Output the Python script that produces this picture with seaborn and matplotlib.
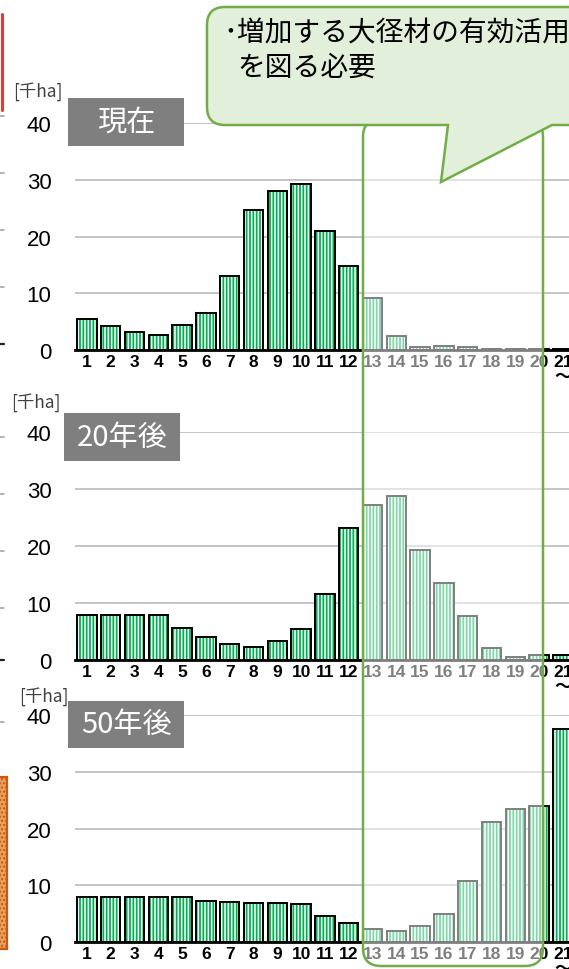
import numpy as np
import pandas as pd
import matplotlib
matplotlib.use("Agg")
import matplotlib.pyplot as plt
import seaborn as sns
from matplotlib.patches import Rectangle, FancyBboxPatch, PathPatch
from matplotlib.path import Path
from matplotlib.lines import Line2D
from matplotlib.transforms import IdentityTransform
from matplotlib import font_manager as fm

# ---------------- data ----------------
age_classes = [str(i) for i in range(1, 21)] + ["21\n〜"]
area_now = [5.5, 4.3, 3.2, 2.7, 4.4, 6.5, 13.0, 24.7, 28.1, 29.3, 20.9, 14.9,
            9.1, 2.5, 0.6, 0.75, 0.55, 0.2, 0.15, 0.1, 0.1]
area_20y = [7.95, 7.95, 7.95, 7.95, 5.7, 4.0, 2.75, 2.2, 3.4, 5.5, 11.6, 23.2,
            27.2, 28.7, 19.3, 13.5, 7.8, 2.05, 0.5, 0.8, 0.8]
area_50y = [7.9, 7.9, 7.9, 7.9, 7.9, 7.3, 7.1, 7.0, 6.9, 6.8, 4.7, 3.45,
            2.3, 2.0, 2.9, 5.0, 10.7, 21.1, 23.5, 23.9, 37.6]
panel_titles = ["現在", "20年後", "50年後"]
y_ticks = [0, 10, 20, 30, 40]
unit_label = "[千ha]"
callout_line1 = "･増加する大径材の有効活用"
callout_line2 = "を図る必要"

# ---------------- style ----------------
sns.set_theme(style="white")
names = {f.name for f in fm.fontManager.ttflist}
NUM = "Liberation Sans" if "Liberation Sans" in names else "DejaVu Sans"
JP = "Noto Sans CJK JP"
plt.rcParams["font.family"] = [NUM, JP, "DejaVu Sans"]
plt.rcParams["hatch.linewidth"] = 1.1

W, H = 569, 970
fig = plt.figure(figsize=(W / 100, H / 100), dpi=100)
fig.patch.set_facecolor("white")
ID = IdentityTransform()

GREEN = "#00B050"
LINE_GREEN = "#70AD47"

panels = [(area_now, 124.2, 351.0), (area_20y, 433.0, 661.0), (area_50y, 716.0, 943.3)]
left_px, width_px = 75.0, 499.8

for vals, top, bottom in panels:
    ax = fig.add_axes([left_px / W, (H - bottom) / H, width_px / W, (bottom - top) / H])
    df = pd.DataFrame({"age": age_classes, "area": vals})
    sns.barplot(data=df, x="age", y="area", ax=ax, color=GREEN, saturation=1,
                width=0.82, linewidth=0, edgecolor="white", errorbar=None)
    bars = list(ax.patches)
    for p in bars:
        p.set_facecolor(GREEN)
        p.set_edgecolor("white")
        p.set_linewidth(0)
        p.set_hatch("|||||")
        ax.add_patch(Rectangle(p.get_xy(), p.get_width(), p.get_height(),
                               fill=False, edgecolor="black", lw=1.4,
                               zorder=p.get_zorder() + 0.1))
    ax.set_xlim(-0.5, 20.5)
    ax.set_ylim(0, 40)
    ax.set_yticks(y_ticks)
    ax.set_xlabel("")
    ax.set_ylabel("")
    ax.set_axisbelow(True)
    ax.yaxis.grid(True, color="#BFBFBF", lw=1.3)
    ax.xaxis.grid(False)
    for s in ["left", "right", "top"]:
        ax.spines[s].set_visible(False)
    ax.spines["bottom"].set_color("black")
    ax.spines["bottom"].set_linewidth(2.0)
    ax.spines["bottom"].set_zorder(4)
    ax.tick_params(axis="y", length=0, pad=17, labelsize=16, labelcolor="black")
    ax.tick_params(axis="x", length=0, pad=3, labelsize=12.5, labelcolor="black")
    for lab in ax.get_xticklabels():
        lab.set_linespacing(0.95)
        lab.set_va("top")
        lab.set_fontweight("bold")
    ax.patch.set_alpha(0)

# ---------------- panel titles & units ----------------
title_boxes = [(68, 99, 116, 48), (64, 414, 116, 48), (68, 702, 116, 47)]
for (x, y, w, h), t in zip(title_boxes, panel_titles):
    fig.add_artist(Rectangle((x, H - y - h), w, h, transform=ID,
                             facecolor="#7F7F7F", edgecolor="none", zorder=3))
    fig.text(x + w / 2, H - (y + h / 2), t, transform=ID, ha="center", va="center",
             color="white", fontsize=21, family=[JP], zorder=4)

unit_pos = [(38, 92), (36, 403), (44, 697)]
for x, y in unit_pos:
    fig.text(x, H - y, unit_label, transform=ID, ha="center", va="center",
             color="#404040", fontsize=12.5, family=[JP], zorder=4)

# ---------------- fragments of neighbouring chart (left edge) ----------------
fig.add_artist(Line2D([1.5, 1.5], [H - 15, H - 111], transform=ID,
                      color="#E03C31", lw=2.2, zorder=3))
for ys in ([117, 174, 231, 288], [438, 495, 552, 609], [723]):
    for y in ys:
        fig.add_artist(Line2D([0, 4], [H - y, H - y], transform=ID,
                              color="#A6A6A6", lw=1.2, zorder=3))
for y in (345, 661):
    fig.add_artist(Line2D([0, 4], [H - y, H - y], transform=ID,
                          color="#202020", lw=1.6, zorder=3))
fig.add_artist(Rectangle((-2, H - 950), 9, 172, transform=ID, facecolor="#E8A060",
                         edgecolor="#C55A11", lw=1.6, hatch="....", zorder=3))

# ---------------- highlight box (translucent) ----------------
fig.add_artist(FancyBboxPatch((363, H - 967), 180, 967 - 120, transform=ID,
                              boxstyle="round,pad=0,rounding_size=18",
                              facecolor=(1, 1, 1, 0.5), edgecolor=LINE_GREEN,
                              lw=1.8, zorder=5))

# ---------------- callout bubble ----------------
L, T, R, B, r = 207, 8, 700, 126, 18
pts = [(L + r, T), (R, T), (R, B), (552, B), (441, 183), (448, B), (L + r, B),
       (L, B), (L, B - r), (L, T + r), (L, T), (L + r, T), (L + r, T)]
codes = [Path.MOVETO, Path.LINETO, Path.LINETO, Path.LINETO, Path.LINETO,
         Path.LINETO, Path.LINETO, Path.CURVE3, Path.CURVE3, Path.LINETO,
         Path.CURVE3, Path.CURVE3, Path.CLOSEPOLY]
verts = [(x, H - y) for x, y in pts]
fig.add_artist(PathPatch(Path(verts, codes), transform=ID, facecolor="#E2EFDA",
                         edgecolor=LINE_GREEN, lw=1.8, zorder=6))
fig.text(223, H - 34, callout_line1, transform=ID, ha="left", va="center",
         fontsize=20, family=[JP], color="black", zorder=7)
fig.text(237, H - 68, callout_line2, transform=ID, ha="left", va="center",
         fontsize=20, family=[JP], color="black", zorder=7)

fig.savefig("out.png", dpi=100, facecolor="white")
